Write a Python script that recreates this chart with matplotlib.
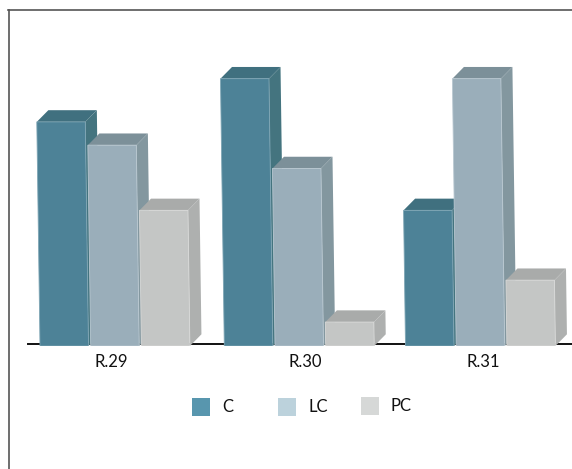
import matplotlib
matplotlib.use("Agg")
from matplotlib import pyplot as plt
from matplotlib.patches import Polygon, Rectangle
from matplotlib.lines import Line2D
from matplotlib.transforms import Affine2D

W, H = 572, 469

groups = ["R.29", "R.30", "R.31"]
series = ["C", "LC", "PC"]
c_values = [33.7, 40.2, 20.4]
lc_values = [30.2, 26.7, 40.2]
pc_values = [20.4, 3.6, 9.9]

front_colors = ["#4d8297", "#9aaeba", "#c4c6c5"]
top_colors = ["#40707f", "#7c9099", "#a9abaa"]
side_colors = ["#44747f", "#83979f", "#aeb0af"]
edge_colors = ["#7fa6b5", "#b9c8d1", "#d8d9d8"]
legend_colors = ["#5896ae", "#bcd2dc", "#d6d8d7"]

plt.rcParams["font.family"] = ["Lato", "DejaVu Sans"]

fig = plt.figure(figsize=(W / 100, H / 100), dpi=100)

# axes box in pixels: bars stand on y=346, running from x=28 to the right edge
ax = fig.add_axes([28 / W, 1 - 346 / H, 544 / W, 300 / H])
ax.set_xlim(28, 572)
ax.set_ylim(0, 300 / 6.65)

bar_w = 48.5
step = 50.7
depth_x, depth_y = 11.7, 11.7 / 6.65
group_left = [40, 224.3, 405.5]

# the columns lean slightly to the left as they rise
lean = Affine2D.from_values(1, 0, -0.095, 1, 0, 0) + ax.transData

for i, values in enumerate([c_values, lc_values, pc_values]):
    # later series sit in front of the side face of the previous one
    z = 3 + i
    for left, v in zip(group_left, values):
        x0 = left + i * step
        x1 = x0 + bar_w
        bars = ax.bar(x0, v, width=bar_w, align="edge", color=front_colors[i],
                      edgecolor=edge_colors[i], linewidth=0.6, zorder=z + 0.2)
        bars[0].set_transform(lean)
        ax.add_patch(Polygon([(x0, v), (x1, v), (x1 + depth_x, v + depth_y), (x0 + depth_x, v + depth_y)],
                             closed=True, facecolor=top_colors[i], edgecolor="none",
                             zorder=z, transform=lean))
        ax.add_patch(Polygon([(x1, 0), (x1, v), (x1 + depth_x, v + depth_y), (x1 + depth_x, depth_y)],
                             closed=True, facecolor=side_colors[i], edgecolor="none",
                             zorder=z, transform=lean))

for name in ["top", "left", "right"]:
    ax.spines[name].set_visible(False)
ax.spines["bottom"].set_position(("data", 0.25))
ax.spines["bottom"].set_linewidth(1.4)
ax.spines["bottom"].set_color("#111111")
ax.patch.set_alpha(0)
ax.set_yticks([])
ax.set_xticks([111.5, 305, 483.5])
ax.set_xticklabels(groups, fontsize=12, color="#111111")
ax.tick_params(axis="x", length=0, pad=7)

# outer frame
fig.add_artist(Line2D([8.5 / W, 8.5 / W], [0, 1 - 10.5 / H], color="#555555", linewidth=1.2))
fig.add_artist(Line2D([8 / W, 1], [1 - 10.5 / H, 1 - 10.5 / H], color="#555555", linewidth=1.2))

# legend drawn by hand, swatch and label for each series
legend_x = [192, 278, 361]
legend_y = [416, 416, 415]
label_x = [222, 309, 391]
for x, y, tx, name, col in zip(legend_x, legend_y, label_x, series, legend_colors):
    fig.add_artist(Rectangle((x / W, 1 - y / H), 18 / W, 18 / H, facecolor=col,
                             edgecolor="none", transform=fig.transFigure))
    fig.text(tx / W, 1 - (y - 9) / H, name, fontsize=12, color="#111111", va="center")

fig.savefig("out.png", dpi=100)
